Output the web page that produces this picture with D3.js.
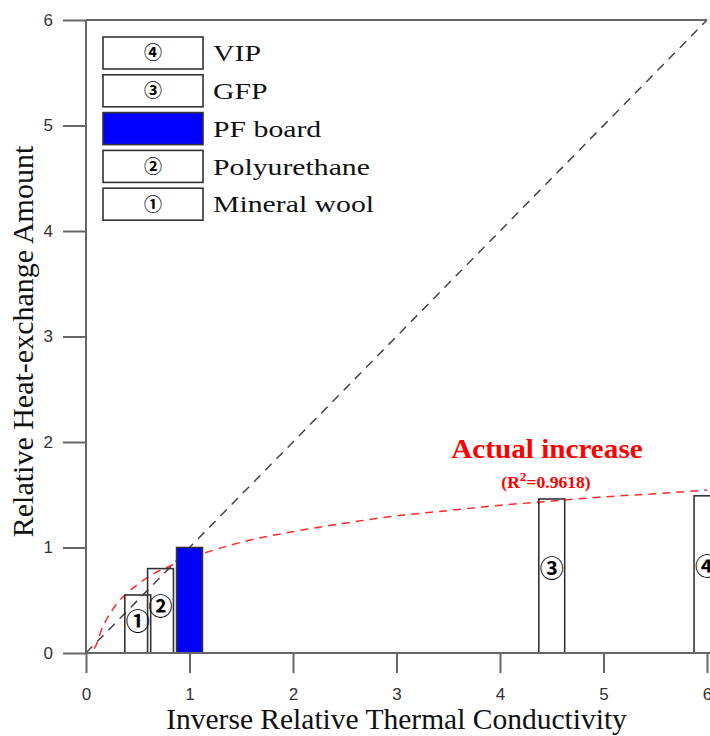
<!DOCTYPE html>
<html>
<head>
<meta charset="utf-8">
<script src="https://cdn.jsdelivr.net/npm/d3@7"></script>
<style>
  html, body { margin: 0; padding: 0; background: #fff; }
  svg { display: block; }
</style>
</head>
<body>
<svg id="chart" width="710" height="736"></svg>
<script>
// Insulation materials: inverse relative thermal conductivity vs relative heat-exchange amount
const materials = ["Mineral wool", "Polyurethane", "PF board", "GFP", "VIP"];
const markers = ["\u2460", "\u2461", "", "\u2462", "\u2463"];
const inverseConductivity = [0.5, 0.72, 1.0, 4.5, 6.0];
const heatExchange = [0.55, 0.80, 1.0, 1.46, 1.49];
const barColors = ["none", "none", "#0000ff", "none", "none"];

// Legend order (top to bottom)
const legendOrder = [4, 3, 2, 1, 0];

// Fitted "actual increase" trend
const trendX = [0.08, 0.1, 0.15, 0.2, 0.3, 0.4, 0.5, 0.6, 0.8, 1.0, 1.25, 1.5, 2.0, 2.5, 3.0, 3.5, 4.0, 4.5, 5.0, 5.5, 6.0];
const trendY = [0.04, 0.08, 0.22, 0.32, 0.47, 0.57, 0.65, 0.72, 0.82, 0.90, 0.98, 1.05, 1.15, 1.23, 1.30, 1.35, 1.40, 1.44, 1.48, 1.51, 1.545];

// Axis ticks
const majorTicks = [0, 1, 2, 3, 4, 5, 6];
const minorTicks = [0.5, 1.5, 2.5, 3.5, 4.5, 5.5];

const barWidth = 0.25;
const sansFont = "'Liberation Sans Narrow', 'Liberation Sans', Arial, sans-serif";
const serifFont = "'Liberation Serif', 'Times New Roman', serif";
const circFont = "'Noto Sans CJK KR', 'Noto Sans CJK SC', sans-serif";

const margin = { left: 86, top: 20, right: 3, bottom: 83 };
const W = 710, H = 736;
const svg = d3.select("#chart");

const x = d3.scaleLinear().domain([0, 6]).range([margin.left, W - margin.right]);
const y = d3.scaleLinear().domain([0, 6]).range([H - margin.bottom, margin.top]);

const axisColor = "#666";

// Serif label with an optional horizontal stretch
function serifLabel(parent, px, py, str, size, sx, opts = {}) {
  const t = parent.append("text")
    .attr("transform", `translate(${px},${py}) scale(${sx},1)`)
    .attr("font-family", serifFont)
    .attr("font-size", size)
    .attr("text-anchor", opts.anchor || "start")
    .attr("fill", opts.fill || "#111");
  if (opts.bold) t.attr("font-weight", "bold");
  if (opts.dy) t.attr("dy", opts.dy);
  if (str) t.text(str);
  return t;
}

// Lines (drawn beneath the bars)
const diag = d3.line().x(d => x(d)).y(d => y(d));
svg.append("path")
  .attr("d", diag([0, 6]))
  .attr("fill", "none")
  .attr("stroke", "#444")
  .attr("stroke-width", 1.5)
  .attr("stroke-dasharray", "9,7");

const trendLine = d3.line()
  .x((d, i) => x(trendX[i]))
  .y(d => y(d))
  .curve(d3.curveMonotoneX);
svg.append("path")
  .attr("d", trendLine(trendY))
  .attr("fill", "none")
  .attr("stroke", "#ff2a2a")
  .attr("stroke-width", 1.5)
  .attr("stroke-dasharray", "8,6");

// Bars
const idx = d3.range(materials.length);
svg.append("g").selectAll("rect")
  .data(idx)
  .join("rect")
  .attr("x", i => x(inverseConductivity[i] - barWidth / 2))
  .attr("width", i => x(inverseConductivity[i] + barWidth / 2) - x(inverseConductivity[i] - barWidth / 2))
  .attr("y", i => y(heatExchange[i]))
  .attr("height", i => y(0) - y(heatExchange[i]))
  .attr("fill", i => barColors[i])
  .attr("stroke", "#333")
  .attr("stroke-width", 1.6);

// Circled numbers inside bars
svg.append("g").selectAll("text")
  .data(idx.filter(i => markers[i]))
  .join("text")
  .attr("x", i => x(inverseConductivity[i]))
  .attr("y", i => y(heatExchange[i] * 0.55))
  .attr("dy", "0.36em")
  .attr("text-anchor", "middle")
  .attr("font-family", circFont)
  .attr("font-weight", "bold")
  .attr("font-size", 24)
  .attr("fill", "#000")
  .text(i => markers[i]);

// Axes
const xAxisG = svg.append("g").attr("transform", `translate(0,${y(0)})`);
xAxisG.call(d3.axisBottom(x).tickValues(minorTicks).tickSize(10).tickFormat(""));
xAxisG.call(d3.axisBottom(x).tickValues(majorTicks).tickSize(20).tickPadding(15).tickFormat(d3.format("d")));

const yAxisG = svg.append("g").attr("transform", `translate(${x(0)},0)`);
yAxisG.call(d3.axisLeft(y).tickValues(minorTicks).tickSize(11).tickFormat(""));
yAxisG.call(d3.axisLeft(y).tickValues(majorTicks).tickSize(23).tickPadding(10).tickFormat(d3.format("d")));

// Top frame line
svg.append("line")
  .attr("x1", x(0)).attr("x2", x(6))
  .attr("y1", y(6)).attr("y2", y(6))
  .attr("stroke", axisColor).attr("stroke-width", 2);

[xAxisG, yAxisG].forEach(g => {
  g.selectAll(".domain").remove();
  g.selectAll("line").attr("stroke", axisColor).attr("stroke-width", 2);
  g.selectAll("text")
    .attr("font-family", sansFont)
    .attr("font-size", 17)
    .attr("fill", "#333");
});
// Axis spines
svg.append("line")
  .attr("x1", x(0)).attr("x2", x(6))
  .attr("y1", y(0)).attr("y2", y(0))
  .attr("stroke", axisColor).attr("stroke-width", 2);
svg.append("line")
  .attr("x1", x(0)).attr("x2", x(0))
  .attr("y1", y(0)).attr("y2", y(6))
  .attr("stroke", axisColor).attr("stroke-width", 2);

// Axis titles
serifLabel(svg, (x(0) + x(6)) / 2, 729, "Inverse Relative Thermal Conductivity", 29.5, 1, { anchor: "middle" });

svg.append("text")
  .attr("transform", `translate(33,${(y(0) + y(6)) / 2 + 5}) rotate(-90)`)
  .attr("text-anchor", "middle")
  .attr("font-family", serifFont)
  .attr("font-size", 30)
  .attr("fill", "#111")
  .text("Relative Heat-exchange Amount");

// Trend annotation
serifLabel(svg, 547, 458, "Actual increase", 27, 1.08, { anchor: "middle", bold: true, fill: "#ff0000" });
const r2 = serifLabel(svg, 546, 488, null, 16, 1.1, { anchor: "middle", bold: true, fill: "#ff0000" });
r2.append("tspan").text("(R");
r2.append("tspan").attr("dy", -7).attr("font-size", 12).text("2");
r2.append("tspan").attr("dy", 7).text("=0.9618)");

// Legend
const legend = svg.append("g");
const rowPitch = 37.8, boxW = 100, boxH = 32;
legendOrder.forEach((i, k) => {
  const top = 37 + k * rowPitch;
  legend.append("rect")
    .attr("x", 103).attr("y", top)
    .attr("width", boxW).attr("height", boxH)
    .attr("fill", barColors[i] === "none" ? "#fff" : barColors[i])
    .attr("stroke", "#333").attr("stroke-width", 1.6);
  if (markers[i]) {
    legend.append("text")
      .attr("x", 103 + boxW / 2).attr("y", top + boxH / 2)
      .attr("dy", "0.36em")
      .attr("text-anchor", "middle")
      .attr("font-family", circFont)
      .attr("font-weight", "bold")
      .attr("font-size", 18)
      .text(markers[i]);
  }
  serifLabel(legend, 213, top + boxH / 2, materials[i], 24, 1.24, { dy: "0.34em" });
});
</script>
</body>
</html>
